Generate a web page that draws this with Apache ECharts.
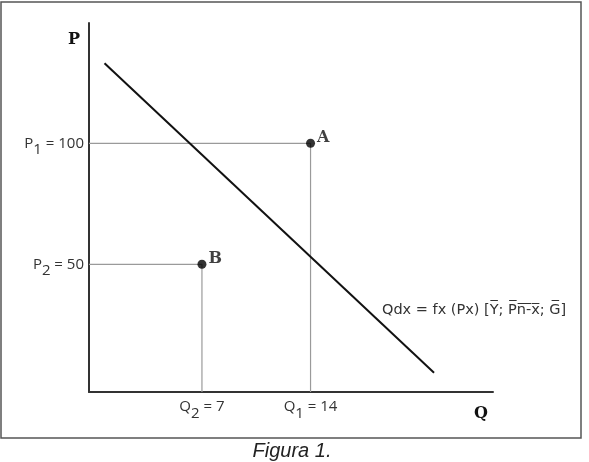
<!DOCTYPE html>
<html>
<head>
<meta charset="utf-8">
<script src="https://cdn.jsdelivr.net/npm/echarts@6/dist/echarts.min.js"></script>
<style>
html,body{margin:0;padding:0;background:#fff;}
#chart{width:589px;height:462px;}
</style>
</head>
<body>
<div id="chart"></div>
<script>
// ---- data ----
const qRange = [-0.28, 25.76];
const pRange = [-2.77, 149.7];
const demandLine = [[0.72, 133.1], [21.96, 5.2]];
const pointNames = ['A', 'B'];
const pointQ = [14, 7];
const pointP = [100, 50];
const qTickValues = [7, 14];
const qTickLabels = {7: ['Q', '2', ' = 7'], 14: ['Q', '1', ' = 14']};
const pTickValues = [50, 100];
const pTickLabels = {50: ['P', '2', ' = 50'], 100: ['P', '1', ' = 100']};
const curveLabel = 'Qdx = fx (Px) [Y\u0305; P\u0305n\u0305-\u0305x\u0305; G\u0305]';
const caption = 'Figura 1.';

const chart = echarts.init(document.getElementById('chart'));
const labelFont = '"Open Sans", "Noto Sans", sans-serif';
const serifFont = '"DejaVu Serif", "Liberation Serif", serif';
const richStyles = {
  m: {fontFamily: labelFont, fontSize: 15, color: '#333', lineHeight: 18},
  s: {fontFamily: labelFont, fontSize: 15, color: '#333', lineHeight: 18, padding: [13, 0, 0, 0]}
};
function richLabel(parts) {
  return '{m|' + parts[0] + '}{s|' + parts[1] + '}{m|' + parts[2] + '}';
}

const series = [];
// guide lines
pointQ.forEach((q, i) => {
  series.push({
    type: 'line', silent: true, symbol: 'none',
    data: [[qRange[0], pointP[i]], [q, pointP[i]], [q, pRange[0]]],
    lineStyle: {color: '#9a9a9a', width: 1.2}, z: 1
  });
});
series.push({
  type: 'line', symbol: 'none', data: demandLine,
  lineStyle: {color: '#111', width: 2}, z: 3
});
series.push({
  type: 'scatter', symbol: 'circle', symbolSize: 9,
  itemStyle: {color: '#000'}, z: 4,
  data: pointQ.map((q, i) => ({value: [q, pointP[i]], name: pointNames[i]})),
  label: {
    show: true, position: [11, -9], formatter: p => p.name,
    fontFamily: serifFont, fontWeight: 'bold', fontSize: 16, color: '#111'
  }
});

chart.setOption({
  animation: false,
  backgroundColor: '#fff',
  grid: {left: 89, top: 23, right: 96, bottom: 70, containLabel: false},
  xAxis: {
    type: 'value', min: qRange[0], max: qRange[1],
    name: 'Q', nameLocation: 'end', nameGap: -12,
    nameTextStyle: {fontFamily: serifFont, fontWeight: 'bold', fontSize: 16, color: '#111',
      align: 'center', verticalAlign: 'top', padding: [14, 0, 0, 0]},
    axisLine: {show: true, onZero: false, lineStyle: {color: '#333', width: 2}},
    axisTick: {show: false},
    splitLine: {show: false},
    axisLabel: {
      customValues: qTickValues, margin: 6,
      formatter: v => richLabel(qTickLabels[v]), rich: richStyles
    }
  },
  yAxis: {
    type: 'value', min: pRange[0], max: pRange[1],
    name: 'P', nameLocation: 'end', nameGap: -17,
    nameTextStyle: {fontFamily: serifFont, fontWeight: 'bold', fontSize: 16, color: '#111',
      align: 'right', verticalAlign: 'middle', padding: [0, 9, 0, 0]},
    axisLine: {show: true, onZero: false, lineStyle: {color: '#333', width: 2}},
    axisTick: {show: false},
    splitLine: {show: false},
    axisLabel: {
      customValues: pTickValues, margin: 5,
      formatter: v => richLabel(pTickLabels[v]), rich: richStyles
    }
  },
  graphic: [
    {type: 'rect', shape: {x: 1, y: 2, width: 580, height: 436},
      style: {fill: 'none', stroke: '#555', lineWidth: 1.5}, silent: true},
    {type: 'text', x: 382, y: 310,
      style: {text: curveLabel, font: '14.5px "DejaVu Sans", sans-serif', fill: '#333',
        verticalAlign: 'middle'}},
    {type: 'text', x: 292, y: 451,
      style: {text: caption, font: 'italic 20px "Liberation Sans", Arial, sans-serif', fill: '#222',
        align: 'center', verticalAlign: 'middle'}}
  ],
  series: series
});
</script>
</body>
</html>
